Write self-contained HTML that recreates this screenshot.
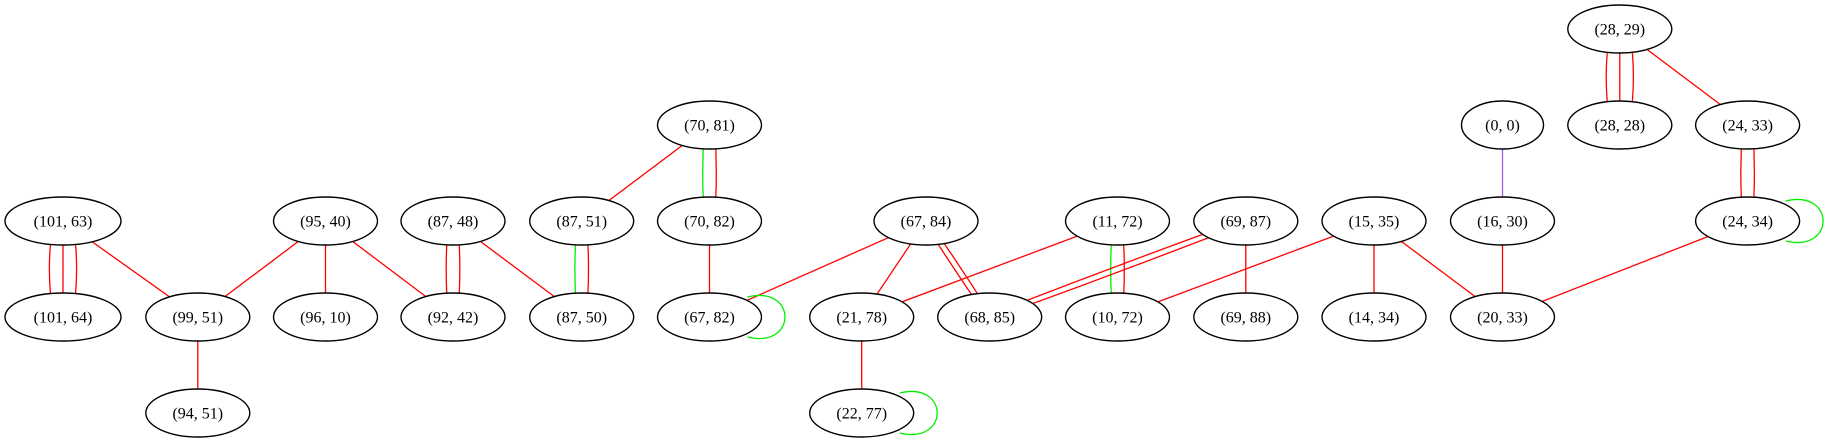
<!DOCTYPE html>
<html><head><meta charset="utf-8"><style>
html,body{margin:0;padding:0;background:#fff;}
svg{display:block;}
text{font-family:"Liberation Serif",serif;font-size:16px;}
</style></head><body>
<svg id="g" width="1829" height="443" viewBox="0 0 1829 443" xmlns="http://www.w3.org/2000/svg"></svg>
<script>
var N={
"101,63":[63,221,58],"95,40":[325.5,221],"87,48":[453,221],"87,51":[581.7,221],"70,82":[709.5,221],"70,81":[709.5,125],
"101,64":[63,317,58],"99,51":[197.8,317],"96,10":[325.5,317],"92,42":[453,317],"87,50":[581.7,317],"67,82":[709.5,317],
"21,78":[861.7,317],"22,77":[861.7,413],"94,51":[197.8,413],
"67,84":[926,221],"11,72":[1117.5,221],"69,87":[1245.8,221],"15,35":[1374,221],"16,30":[1502.5,221],"0,0":[1502.5,125,41],
"68,85":[989.7,317],"10,72":[1117.5,317],"69,88":[1245.8,317],"14,34":[1374,317],"20,33":[1502.5,317],
"28,29":[1619.8,29],"28,28":[1619.8,125],"24,33":[1747.6,125],"24,34":[1747.6,221]};
var R="#ff0000",G="#00ee00",P="#a35fe0";
var E=[
["101,63","101,64",[R,R,R]],["101,63","99,51",[R]],["95,40","99,51",[R]],["95,40","96,10",[R]],["95,40","92,42",[R]],
["87,48","92,42",[R,R]],["87,48","87,50",[R]],["70,81","87,51",[R]],["70,81","70,82",[G,R]],["87,51","87,50",[G,R]],
["70,82","67,82",[R]],["99,51","94,51",[R]],["67,84","67,82",[R]],["67,84","21,78",[R]],["67,84","68,85",[R,R]],
["11,72","21,78",[R]],["11,72","10,72",[G,R]],["69,87","68,85",[R,R]],["69,87","69,88",[R]],["15,35","10,72",[R]],
["15,35","14,34",[R]],["15,35","20,33",[R]],["0,0","16,30",[P]],["16,30","20,33",[R]],["24,34","20,33",[R]],
["24,33","24,34",[R,R]],["28,29","28,28",[R,R,R]],["28,29","24,33",[R]],["21,78","22,77",[R]]];
var s="";
E.forEach(function(e){
 var a=N[e[0]],b=N[e[1]],c=e[2];
 var dx=b[0]-a[0],dy=b[1]-a[1],L=Math.hypot(dx,dy),px=-dy/L,py=dx/L;
 var n=c.length;
 var sp=Math.abs(dx)>5?7:16;
 c.forEach(function(col,i){
  var o=(i-(n-1)/2)*sp;
  var sx=Math.abs(px)>0.01?(px>0?1:-1):1;
  var ox=px*o*sx,oy=py*o*sx;
  var mx=(a[0]+b[0])/2+ox*1.1,my=(a[1]+b[1])/2+oy*1.1;
  s+='<path d="M'+(a[0]+ox*0.6)+','+(a[1]+oy*0.6)+' Q'+mx+','+my+' '+(b[0]+ox*0.6)+','+(b[1]+oy*0.6)+'" fill="none" stroke="'+col+'" stroke-width="1.3"/>';
 });
});
function loop(k){var p=N[k];var x=p[0]+38,y1=p[1]-20,y2=p[1]+20;
 s+='<path d="M'+x+','+y1+' C'+(x+50)+','+(y1-12)+' '+(x+50)+','+(y2+12)+' '+x+','+y2+'" fill="none" stroke="'+G+'" stroke-width="1.3"/>';}
loop("67,82");loop("22,77");loop("24,34");
for(var k in N){var p=N[k];var rx=p[2]||52;
 s+='<ellipse cx="'+p[0]+'" cy="'+p[1]+'" rx="'+rx+'" ry="24" fill="#fff" stroke="#000" stroke-width="1.4"/>';
 s+='<text x="'+p[0]+'" y="'+(p[1]+5.5)+'" text-anchor="middle">('+k.replace(",",", ")+')</text>';}
document.getElementById("g").innerHTML=s;
</script>
</body></html>
